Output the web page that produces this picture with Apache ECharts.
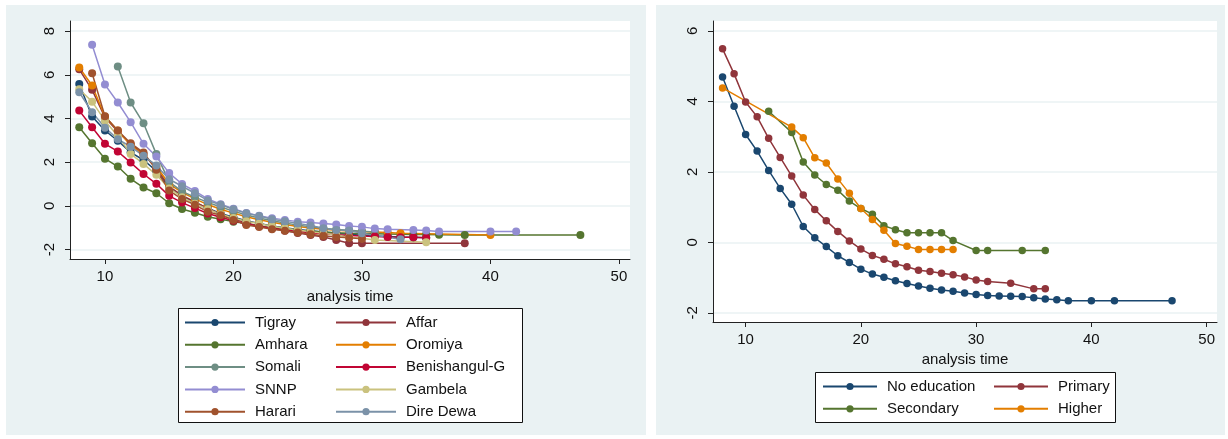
<!DOCTYPE html>
<html><head><meta charset="utf-8">
<script src="https://cdn.jsdelivr.net/npm/echarts@6/dist/echarts.min.js"></script>
<style>html,body{margin:0;padding:0;background:#fff;}#c{width:1228px;height:439px;}</style>
</head><body><div id="c"></div>
<script>
// ---------- data: left panel (regions), [analysis time, value] ----------
const regionNames = ['Tigray','Affar','Amhara','Oromiya','Somali','Benishangul-G','SNNP','Gambela','Harari','Dire Dewa'];
const tigray = [[8,5.58],[9,4.09],[10,3.45],[11,2.98],[12,2.45],[13,2.10],[14,1.60],[15,0.85],[16,0.45],[17,0.15],[18,-0.10],[19,-0.35],[20,-0.52],[21,-0.68],[22,-0.80],[23,-0.92],[24,-1.00],[25,-1.08],[26,-1.14],[27,-1.20],[28,-1.25],[29,-1.30],[30,-1.34],[31,-1.38],[32,-1.40],[33,-1.42],[34,-1.43],[35,-1.46]];
const affar = [[8,6.25],[9,5.31],[10,4.05],[11,3.40],[12,2.82],[13,2.38],[14,1.72],[15,0.88],[16,0.48],[17,0.18],[18,-0.12],[19,-0.38],[20,-0.58],[21,-0.78],[22,-0.92],[23,-1.04],[24,-1.14],[25,-1.24],[26,-1.33],[27,-1.42],[28,-1.56],[29,-1.71],[30,-1.71],[38,-1.71]];
const amhara = [[8,3.60],[9,2.87],[10,2.16],[11,1.80],[12,1.24],[13,0.84],[14,0.58],[15,0.12],[16,-0.14],[17,-0.31],[18,-0.50],[19,-0.61],[20,-0.72],[21,-0.82],[22,-0.92],[23,-1.00],[24,-1.06],[25,-1.12],[26,-1.16],[27,-1.20],[28,-1.23],[29,-1.25],[30,-1.27],[31,-1.28],[32,-1.29],[33,-1.30],[34,-1.31],[35,-1.31],[36,-1.32],[38,-1.33],[47,-1.33]];
const oromiya = [[8,6.33],[9,5.51],[10,4.09],[11,3.45],[12,2.78],[13,2.32],[14,1.80],[15,1.00],[16,0.62],[17,0.32],[18,0.06],[19,-0.15],[20,-0.33],[21,-0.50],[22,-0.63],[23,-0.75],[24,-0.85],[25,-0.94],[26,-1.01],[27,-1.07],[28,-1.11],[29,-1.15],[30,-1.18],[31,-1.20],[32,-1.22],[33,-1.25],[40,-1.33]];
const somali = [[11,6.38],[12,4.73],[13,3.78],[14,2.37],[15,1.10],[16,0.66],[17,0.40],[18,0.16],[19,-0.05],[20,-0.24],[21,-0.42],[22,-0.55],[23,-0.68],[24,-0.78],[25,-0.88],[26,-0.95],[27,-1.02],[28,-1.08],[29,-1.12],[30,-1.16],[31,-1.20]];
const benishangul = [[8,4.36],[9,3.60],[10,2.84],[11,2.49],[12,1.98],[13,1.46],[14,1.01],[15,0.46],[16,0.15],[17,-0.10],[18,-0.35],[19,-0.52],[20,-0.68],[21,-0.82],[22,-0.93],[23,-1.02],[24,-1.10],[25,-1.17],[26,-1.23],[27,-1.28],[28,-1.32],[29,-1.36],[30,-1.38],[31,-1.40],[32,-1.42],[33,-1.43],[34,-1.44],[35,-1.46]];
const snnp = [[9,7.37],[10,5.55],[11,4.73],[12,3.83],[13,2.84],[14,2.26],[15,1.50],[16,1.00],[17,0.68],[18,0.32],[19,0.08],[20,-0.13],[21,-0.32],[22,-0.45],[23,-0.56],[24,-0.64],[25,-0.72],[26,-0.76],[27,-0.81],[28,-0.85],[29,-0.92],[30,-0.96],[31,-1.04],[32,-1.07],[34,-1.10],[35,-1.13],[36,-1.17],[40,-1.17],[42,-1.17]];
const gambela = [[8,5.34],[9,4.77],[10,3.90],[11,3.20],[12,2.38],[13,1.92],[14,1.42],[15,0.80],[16,0.40],[17,0.10],[18,-0.15],[19,-0.38],[20,-0.55],[21,-0.70],[22,-0.82],[23,-0.93],[24,-1.02],[25,-1.10],[26,-1.18],[27,-1.25],[28,-1.33],[29,-1.43],[30,-1.48],[31,-1.56],[35,-1.66]];
const harari = [[9,6.07],[10,4.10],[11,3.45],[12,2.87],[13,2.44],[14,1.65],[15,0.70],[16,0.31],[17,0.05],[18,-0.27],[19,-0.43],[20,-0.64],[21,-0.87],[22,-0.97],[23,-1.07],[24,-1.14],[25,-1.22],[26,-1.30],[27,-1.37],[28,-1.42],[29,-1.46],[30,-1.50]];
const direDewa = [[8,5.20],[9,4.29],[10,3.58],[11,3.05],[12,2.71],[13,2.29],[14,1.85],[15,1.22],[16,0.90],[17,0.58],[18,0.25],[19,0.05],[20,-0.15],[21,-0.34],[22,-0.46],[23,-0.61],[24,-0.70],[25,-0.80],[26,-0.90],[27,-1.02],[28,-1.10],[29,-1.13],[30,-1.25],[33,-1.53]];

// ---------- data: right panel (education) ----------
const educationNames = ['No education','Primary','Secondary','Higher'];
const noEducation = [[8,4.69],[9,3.86],[10,3.06],[11,2.59],[12,2.04],[13,1.53],[14,1.08],[15,0.45],[16,0.13],[17,-0.12],[18,-0.38],[19,-0.57],[20,-0.76],[21,-0.90],[22,-0.99],[23,-1.09],[24,-1.17],[25,-1.24],[26,-1.30],[27,-1.35],[28,-1.39],[29,-1.44],[30,-1.48],[31,-1.51],[32,-1.52],[33,-1.53],[34,-1.54],[35,-1.57],[36,-1.61],[37,-1.63],[38,-1.66],[40,-1.66],[42,-1.66],[47,-1.66]];
const primary = [[8,5.49],[9,4.78],[10,3.98],[11,3.56],[12,2.95],[13,2.41],[14,1.88],[15,1.34],[16,0.93],[17,0.61],[18,0.31],[19,0.04],[20,-0.19],[21,-0.37],[22,-0.48],[23,-0.61],[24,-0.69],[25,-0.79],[26,-0.83],[27,-0.88],[28,-0.92],[29,-0.98],[30,-1.07],[31,-1.11],[33,-1.16],[35,-1.32],[36,-1.32]];
const secondary = [[12,3.72],[14,3.12],[15,2.28],[16,1.91],[17,1.64],[18,1.48],[19,1.17],[20,0.96],[21,0.80],[22,0.47],[23,0.36],[24,0.27],[25,0.27],[26,0.27],[27,0.27],[28,0.05],[30,-0.23],[31,-0.23],[34,-0.23],[36,-0.23]];
const higher = [[8,4.38],[14,3.27],[15,2.97],[16,2.40],[17,2.25],[18,1.80],[19,1.39],[20,0.96],[21,0.65],[22,0.34],[23,-0.03],[24,-0.11],[25,-0.20],[26,-0.20],[27,-0.20],[28,-0.20]];

// ---------- tick labels ----------
const xTicks = [10,20,30,40,50];
const leftYTicks = [-2,0,2,4,6,8];
const rightYTicks = [-2,0,2,4,6];
const xTitle = 'analysis time';

// ---------- styles ----------
const regionSeriesData = [tigray,affar,amhara,oromiya,somali,benishangul,snnp,gambela,harari,direDewa];
const educationSeriesData = [noEducation,primary,secondary,higher];
const palette = ['#1a476f','#90353b','#55752f','#e37e00','#6e8e84','#c10534','#938dd2','#cac27e','#a0522d','#7b92a8'];
const FONT = '"Liberation Sans", Arial, sans-serif';
const BG = '#eaf2f3';

function xAxisCfg(grid, min, max) {
  return {
    gridIndex: grid, type: 'value', min: min, max: max, splitNumber: 5,
    axisLine: {show: true, onZero: false, lineStyle: {color: '#222', width: 1}},
    axisTick: {show: true, length: 5, customValues: xTicks, lineStyle: {color: '#222'}},
    axisLabel: {customValues: xTicks, fontSize: 15, color: '#111', margin: 10, fontFamily: FONT},
    splitLine: {show: false},
    name: xTitle, nameLocation: 'middle', nameGap: 23,
    nameTextStyle: {fontSize: 15, color: '#111', fontFamily: FONT}
  };
}
function yAxisCfg(grid, min, max, ticks) {
  return {
    gridIndex: grid, type: 'value', min: min, max: max, splitNumber: 5,
    axisLine: {show: true, onZero: false, lineStyle: {color: '#222', width: 1}},
    axisTick: {show: true, length: 5, customValues: ticks, lineStyle: {color: '#222'}},
    axisLabel: {customValues: ticks, rotate: 90, fontSize: 15, color: '#111', margin: 13, fontFamily: FONT},
    splitLine: {show: true, lineStyle: {color: BG, width: 1.5}}
  };
}
function lineSeries(name, data, color, xi, yi, size) {
  return {
    type: 'line', name: name, data: data, xAxisIndex: xi, yAxisIndex: yi,
    symbol: 'circle', symbolSize: size, showAllSymbol: true,
    lineStyle: {color: color, width: 1.5}, itemStyle: {color: color, borderWidth: 0},
    emphasis: {disabled: true}
  };
}
const legendText = {fontSize: 15, color: '#111', fontFamily: FONT, padding: [0,0,0,5]};
function legendCol(names, left, top, w, gap) {
  return {orient: 'vertical', left: left, top: top, itemWidth: w, itemHeight: 9, itemGap: gap,
          padding: 0, textStyle: legendText, data: names, selectedMode: false};
}

const series = [];
regionNames.forEach((n, i) => series.push(lineSeries(n, regionSeriesData[i], palette[i], 0, 0, 8)));
educationNames.forEach((n, i) => series.push(lineSeries(n, educationSeriesData[i], palette[i], 1, 1, 7.5)));

const option = {
  animation: false,
  backgroundColor: '#fff',
  graphic: [
    {type: 'rect', left: 6, top: 5, shape: {width: 640, height: 430}, style: {fill: BG}, z: -10, silent: true},
    {type: 'rect', left: 656, top: 5, shape: {width: 569, height: 430}, style: {fill: BG}, z: -10, silent: true},
    {type: 'rect', left: 178, top: 308, shape: {width: 344, height: 114}, style: {fill: '#fff', stroke: '#111', lineWidth: 1}, z: -5, silent: true},
    {type: 'rect', left: 815, top: 372, shape: {width: 300, height: 50}, style: {fill: '#fff', stroke: '#111', lineWidth: 1}, z: -5, silent: true}
  ],
  grid: [
    {left: 70, top: 21, width: 560, height: 238, show: true, backgroundColor: '#fff', borderWidth: 0},
    {left: 713, top: 21, width: 504, height: 301, show: true, backgroundColor: '#fff', borderWidth: 0}
  ],
  xAxis: [xAxisCfg(0, 7.28, 50.86), xAxisCfg(1, 7.17, 50.9)],
  yAxis: [yAxisCfg(0, -2.43, 8.46, leftYTicks), yAxisCfg(1, -2.26, 6.28, rightYTicks)],
  legend: [
    legendCol(['Tigray','Amhara','Somali','SNNP','Harari'], 184, 315, 60, 7.3),
    legendCol(['Affar','Oromiya','Benishangul-G','Gambela','Dire Dewa'], 335, 315, 60, 7.3),
    legendCol(['No education','Secondary'], 822, 379, 54, 7.3),
    legendCol(['Primary','Higher'], 993, 379, 54, 7.3)
  ],
  series: series
};
const chart = echarts.init(document.getElementById('c'), null, {renderer: 'canvas'});
chart.setOption(option);
</script></body></html>
